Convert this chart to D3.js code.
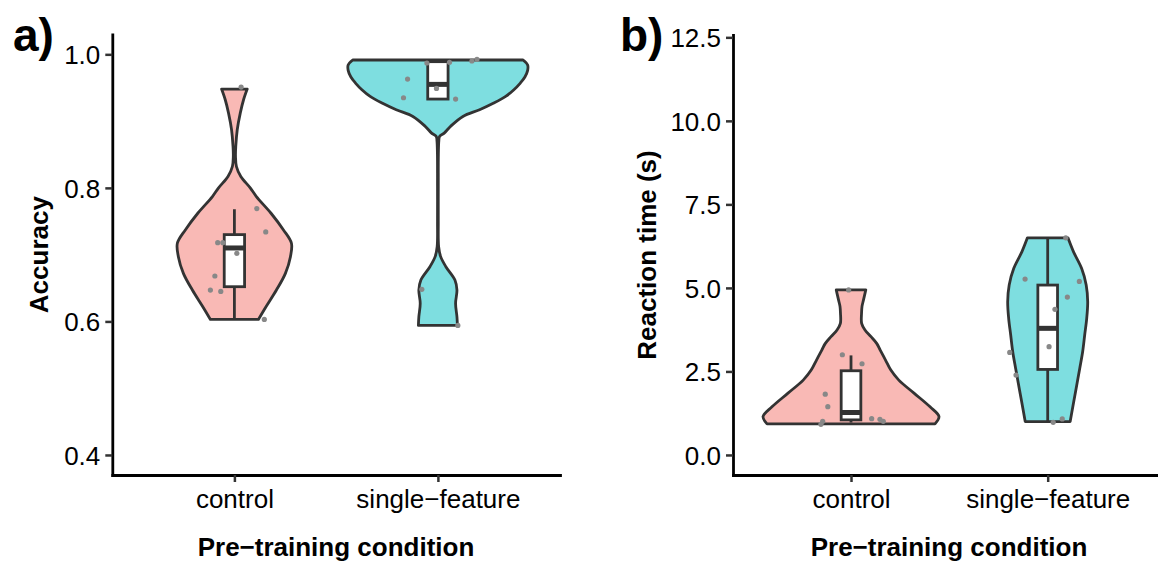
<!DOCTYPE html>
<html><head><meta charset="utf-8">
<script src="https://cdn.jsdelivr.net/npm/d3@7"></script>
<style>html,body{margin:0;padding:0;background:#fff}svg text{font-family:"Liberation Sans",Arial,Helvetica,sans-serif}</style>
</head><body><svg id="c" width="1158" height="565"></svg>
<script>
// ---------- data ----------
const categories = ["control", "single\u2212feature"];
const accTicks = [0.4, 0.6, 0.8, 1.0];
const rtTicks = [0, 2.5, 5, 7.5, 10, 12.5];

// violin profiles (value, relative density)
const accControlVioY = [0.603,0.623,0.647,0.672,0.697,0.717,0.737,0.762,0.787,0.800,0.817,0.832,0.847,0.862,0.887,0.912,0.932,0.948];
const accControlVioD = [0.262,0.350,0.459,0.557,0.612,0.623,0.536,0.400,0.240,0.173,0.070,0.022,0.012,0.015,0.031,0.064,0.100,0.140];
const accSingleVioY = [0.594,0.607,0.627,0.647,0.662,0.682,0.697,0.712,0.75,0.80,0.85,0.870,0.877,0.882,0.892,0.907,0.917,0.927,0.937,0.947,0.957,0.966,0.976,0.984,0.9915];
const accSingleVioD = [0.213,0.208,0.193,0.208,0.186,0.087,0.030,0.008,0.004,0.004,0.005,0.010,0.018,0.069,0.137,0.273,0.455,0.61,0.74,0.83,0.90,0.95,0.98,0.98,0.93];
const rtControlVioY = [0.93,1.15,1.44,1.85,2.24,2.54,2.84,3.14,3.34,3.54,3.74,3.94,4.24,4.44,4.64,4.94];
const rtControlVioD = [0.949,0.994,0.893,0.712,0.54,0.45,0.39,0.33,0.29,0.226,0.158,0.12,0.119,0.124,0.141,0.167];
const rtSingleVioY = [1.00,1.59,2.09,2.59,3.09,3.59,4.09,4.59,5.09,5.58,6.08,6.50];
const rtSingleVioD = [0.254,0.294,0.328,0.362,0.395,0.418,0.441,0.452,0.435,0.384,0.292,0.229];

// box stats [lower whisker, q1, median, q3, upper whisker]
const accControlBox = [0.603, 0.652, 0.710, 0.730, 0.768];
const accSingleBox = [0.933, 0.933, 0.955, 0.989, 0.990];
const rtControlBox = [0.97, 1.05, 1.27, 2.52, 2.98];
const rtSingleBox = [1.00, 2.56, 3.79, 5.085, 6.50];

// points: values and horizontal jitter (category units)
const accControlPts = [0.951,0.769,0.734,0.718,0.718,0.702,0.668,0.647,0.645,0.603];
const accControlJit = [0.033,0.110,0.154,-0.082,-0.057,0.012,-0.096,-0.118,-0.067,0.147];
const accSinglePts = [0.987,0.988,0.990,0.9925,0.963,0.949,0.935,0.933,0.648,0.594];
const accSingleJit = [-0.054,0.057,0.167,0.192,-0.149,-0.007,-0.169,0.087,-0.079,0.098];
const rtControlPts = [4.94,3.00,2.73,1.82,1.445,1.086,1.067,1.008,1.008,0.918];
const rtControlJit = [-0.012,-0.044,0.056,-0.131,-0.118,0.105,0.147,0.164,-0.144,-0.153];
const rtSinglePts = [6.50,5.265,5.195,4.726,4.358,3.24,3.07,2.39,1.077,0.978];
const rtSingleJit = [0.092,-0.115,0.161,0.100,0.037,0.007,-0.193,-0.161,0.074,0.028];

// ---------- drawing ----------
const svg = d3.select("#c");
const FILL = ["#F9B9B5", "#7EDEE0"];
const STROKE = "#333333";
const LW = 2.8;

function drawPanel(o) {
  const g = svg.append("g");
  const x = d3.scalePoint().domain(categories).range(o.xr).padding(0.6);
  const y = d3.scaleLinear().domain(o.yd).range(o.yr);
  const step = x.step();
  const w = d3.scaleLinear().domain([0, 1]).range([0, 0.45 * step]);

  o.violins.forEach((v, i) => {
    const cx = x(categories[i]);
    const pts = v[0].map((val, k) => ({ v: val, d: v[1][k] }));
    const area = d3.area().curve(d3.curveCatmullRom.alpha(0.5))
      .y(p => y(p.v)).x0(p => cx - w(p.d)).x1(p => cx + w(p.d));
    g.append("path").attr("d", area(pts)).attr("fill", FILL[i])
      .attr("stroke", STROKE).attr("stroke-width", LW).attr("stroke-linejoin", "round");
  });

  o.boxes.forEach((b, i) => {
    const cx = x(categories[i]);
    const bw = 0.1 * step;
    g.append("line").attr("x1", cx).attr("x2", cx).attr("y1", y(b[3])).attr("y2", y(b[4]))
      .attr("stroke", STROKE).attr("stroke-width", LW);
    g.append("line").attr("x1", cx).attr("x2", cx).attr("y1", y(b[1])).attr("y2", y(b[0]))
      .attr("stroke", STROKE).attr("stroke-width", LW);
    g.append("rect").attr("x", cx - bw / 2).attr("width", bw)
      .attr("y", y(b[3])).attr("height", y(b[1]) - y(b[3]))
      .attr("fill", "#fff").attr("stroke", STROKE).attr("stroke-width", LW);
    g.append("line").attr("x1", cx - bw / 2).attr("x2", cx + bw / 2).attr("y1", y(b[2])).attr("y2", y(b[2]))
      .attr("stroke", STROKE).attr("stroke-width", 5);
  });

  o.points.forEach((p, i) => {
    const cx = x(categories[i]);
    p[0].forEach((val, k) => {
      g.append("circle").attr("cx", cx + p[1][k] * step).attr("cy", y(val)).attr("r", 2.6)
        .attr("fill", "#888888");
    });
  });

  // axes
  const ya = g.append("g").attr("transform", `translate(${o.xr[0]},0)`)
    .call(d3.axisLeft(y).tickValues(o.ticks).tickFormat(d3.format(".1f")).tickSize(7).tickSizeOuter(0).tickPadding(5));
  const xa = g.append("g").attr("transform", `translate(0,${o.yr[0]})`)
    .call(d3.axisBottom(x).tickSize(7).tickSizeOuter(0).tickPadding(6));
  [ya, xa].forEach(a => {
    a.select(".domain").attr("stroke", "#000").attr("stroke-width", LW).attr("stroke-linecap", "square");
    a.selectAll(".tick line").attr("stroke", STROKE).attr("stroke-width", 2.5);
    a.selectAll(".tick text").attr("fill", "#000").style("font-size", "26px")
      .style("font-family", '"Liberation Sans", Arial, sans-serif');
  });
  ya.selectAll(".tick text").attr("dy", "0.36em");
  xa.selectAll(".tick text").attr("dy", null).attr("y", 508 - o.yr[0]);

  g.append("text").attr("x", o.xtitleX).attr("y", 556)
    .attr("text-anchor", "middle").style("font-size", "26px").style("font-weight", "bold")
    .text("Pre\u2212training condition");
  g.append("text").attr("transform", `translate(${o.ytitleX},${(o.yr[0] + o.yr[1]) / 2}) rotate(-90)`)
    .attr("text-anchor", "middle").style("font-size", "26px").style("font-weight", "bold")
    .text(o.ytitle);
  g.append("text").attr("x", o.tagX).attr("y", 51).style("font-size", "46px").style("font-weight", "bold")
    .text(o.tag);
}

drawPanel({
  xr: [112.3, 560], yd: [0.37, 1.03], yr: [475, 34.3], ticks: accTicks,
  violins: [[accControlVioY, accControlVioD], [accSingleVioY, accSingleVioD]],
  boxes: [accControlBox, accSingleBox],
  points: [[accControlPts, accControlJit], [accSinglePts, accSingleJit]],
  ytitle: "Accuracy", ytitleX: 48, tag: "a)", tagX: 13, xtitleX: 336
});
drawPanel({
  xr: [733, 1165.7], yd: [-0.6, 12.57], yr: [475, 35], ticks: rtTicks,
  violins: [[rtControlVioY, rtControlVioD], [rtSingleVioY, rtSingleVioD]],
  boxes: [rtControlBox, rtSingleBox],
  points: [[rtControlPts, rtControlJit], [rtSinglePts, rtSingleJit]],
  ytitle: "Reaction time (s)", ytitleX: 656, tag: "b)", tagX: 620, xtitleX: 949
});
</script></body></html>
